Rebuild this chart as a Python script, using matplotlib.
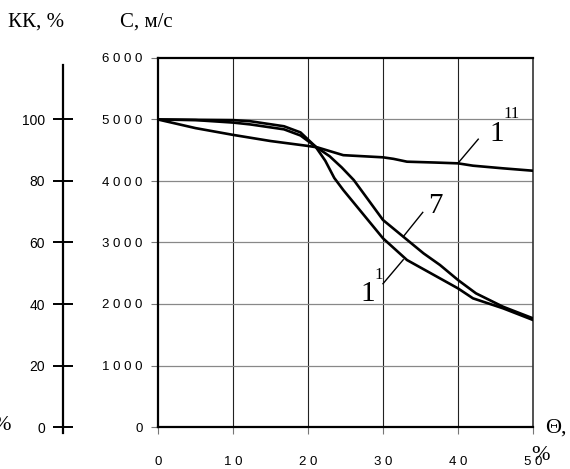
import numpy as np
import matplotlib
matplotlib.use("Agg")
import matplotlib.pyplot as plt

# --- data ---
theta_11 = [0, 5, 10, 15, 20, 21.3, 24.7, 30, 31.4, 33.2, 37, 40, 42, 46, 50]
c_11 = [5000, 4860, 4750, 4650, 4570, 4545, 4420, 4385, 4360, 4314, 4300, 4287, 4249, 4206, 4167]

theta_1 = [0, 5, 10, 12.3, 16.8, 19.0, 21.0, 22.3, 23.5, 24.7, 26.9, 30, 33.2, 36.4, 40, 42, 46, 50]
c_1 = [5000, 4995, 4990, 4972, 4890, 4790, 4560, 4330, 4050, 3854, 3528, 3068, 2715, 2498, 2254, 2092, 1930, 1740]

theta_7 = [0, 5, 10, 12.3, 16.8, 19.0, 21.0, 22.9, 24.5, 26.1, 28, 30, 32.7, 35.4, 37.6, 40, 42.4, 46, 50]
c_7 = [5000, 4990, 4950, 4920, 4840, 4740, 4560, 4401, 4220, 4016, 3700, 3366, 3095, 2824, 2634, 2390, 2173, 1956, 1767]

x_ticks = [0, 10, 20, 30, 40, 50]
c_ticks = [0, 1000, 2000, 3000, 4000, 5000, 6000]
kk_ticks = [0, 20, 40, 60, 80, 100]

W, H = 570, 469
fig = plt.figure(figsize=(W / 100, H / 100), dpi=100)

def fx(px):
    return px / W

def fy(py):
    return 1 - py / H

serif = "Liberation Serif"
sans = "Liberation Sans"

# main plot
ax = fig.add_axes([fx(158), fy(427), (533 - 158) / W, (427 - 58) / H])
ax.set_xlim(0, 50)
ax.set_ylim(0, 6000)
ax.set_xticks(x_ticks)
ax.set_yticks(c_ticks)
ax.set_xticklabels([" ".join(str(v)) for v in x_ticks], family=sans, fontsize=9.5)
ax.set_yticklabels([" ".join(str(v)) for v in c_ticks], family=sans, fontsize=9.5)
ax.tick_params(axis="x", direction="out", length=5, color="#777777", pad=16)
ax.tick_params(axis="y", direction="out", length=5, color="#777777", pad=6)

for v in x_ticks[1:-1]:
    ax.axvline(v, color="#222222", lw=0.8, zorder=1)
for v in c_ticks[1:-1]:
    ax.axhline(v, color="#888888", lw=0.9, zorder=1)

for s in ["left", "top", "bottom"]:
    ax.spines[s].set_linewidth(1.6)
ax.spines["right"].set_linewidth(1.2)
ax.spines["right"].set_color("#333333")

for th, c in [(theta_11, c_11), (theta_1, c_1), (theta_7, c_7)]:
    ax.plot(th, c, color="black", lw=1.9, zorder=3, solid_joinstyle="round")

# curve labels with leader lines
ax.plot([40, 42.7], [4290, 4680], color="black", lw=1)
ax.text(44.2, 4650, "1", family=serif, fontsize=21, ha="left", va="baseline")
ax.text(46.0, 5020, "11", family=serif, fontsize=12, ha="left", va="baseline")
ax.plot([32.7, 35.3], [3095, 3490], color="black", lw=1)
ax.text(36.0, 3480, "7", family=serif, fontsize=21, ha="left", va="baseline")
ax.plot([32.7, 30.0], [2720, 2330], color="black", lw=1)
ax.text(27.0, 2050, "1", family=serif, fontsize=21, ha="left", va="baseline")
ax.text(28.8, 2400, "1", family=serif, fontsize=12, ha="left", va="baseline")

# KK axis on the left
ax2 = fig.add_axes([fx(63), fy(427), 0.001, (427 - 58) / H])
ax2.set_ylim(0, 120)
ax2.set_xticks([])
ax2.set_yticks(kk_ticks)
ax2.set_yticklabels([str(v) for v in kk_ticks], family=sans, fontsize=10)
ax2.tick_params(axis="y", direction="inout", length=14, width=1.4, pad=6)
for s in ["top", "right", "bottom"]:
    ax2.spines[s].set_visible(False)
ax2.spines["left"].set_linewidth(1.6)
ax2.spines["left"].set_bounds(-2, 117.7)
ax2.patch.set_visible(False)

# axis titles
fig.text(fx(8), fy(22), "КК, %", family=serif, fontsize=15, ha="left", va="center")
fig.text(fx(120), fy(22), "С, м/с", family=serif, fontsize=15, ha="left", va="center")
fig.text(fx(545), fy(428), "Θ,", family=serif, fontsize=16, ha="left", va="center")
fig.text(fx(540), fy(455), "%", family=serif, fontsize=16, ha="center", va="center")
fig.text(fx(-8), fy(425), "%", family=serif, fontsize=16, ha="left", va="center")

fig.savefig("out.png", dpi=100)
